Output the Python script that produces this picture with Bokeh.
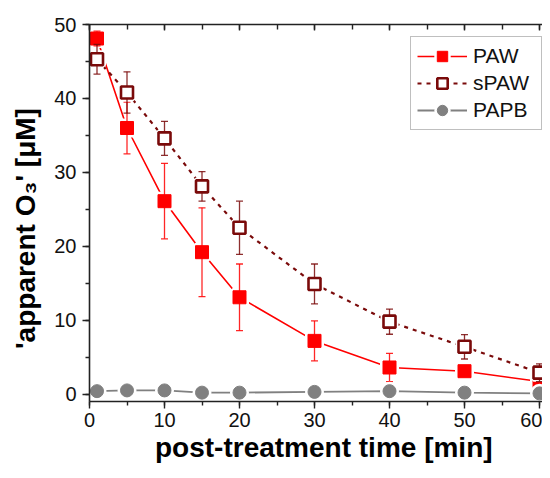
from bokeh.plotting import figure
from bokeh.models import (LinearAxis, SingleIntervalTicker, Range1d, Legend, LegendItem,
                          ColumnDataSource)
from bokeh.embed import file_html
from bokeh.resources import INLINE

# ---- data ----
time_min = [1, 5, 10, 15, 20, 30, 40, 50, 60]
paw = [48.1, 36.0, 26.1, 19.2, 13.1, 7.2, 3.6, 3.1, 1.7]
paw_err = [1.0, 3.5, 5.1, 6.0, 4.5, 2.7, 1.9, 0.5, 0.5]
spaw = [45.3, 40.8, 34.6, 28.1, 22.5, 14.9, 9.8, 6.4, 2.9]
spaw_err = [2.0, 2.8, 2.3, 2.0, 3.6, 2.7, 1.7, 1.65, 1.2]
papb = [0.4, 0.5, 0.5, 0.2, 0.2, 0.3, 0.4, 0.2, 0.1]
series_names = ["PAW", "sPAW", "PAPB"]
x_label = "\u00a0\u00a0post-treatment time [min]"
y_label = "'apparent O\u2083' [\u03bcM]\u00a0\u00a0\u00a0\u00a0"

FONT = "Liberation Sans"
RED = "#ff0000"
MAROON = "#7a0a0a"
GRAY = "#808080"
AXIS = "#222222"

W, H = 542, 470
p = figure(width=W, height=H, output_backend="svg", toolbar_location=None,
           x_range=Range1d(0, 60.4), y_range=Range1d(-1, 50),
           min_border_left=89, min_border_right=0, min_border_top=24, min_border_bottom=69,
           outline_line_color=None, background_fill_color="white", border_fill_color="white")
p.grid.visible = False

def src(y, e):
    return ColumnDataSource(dict(x=time_min, y=y,
                                 lo=[a - b for a, b in zip(y, e)],
                                 hi=[a + b for a, b in zip(y, e)]))

s_paw = src(paw, paw_err)
s_spaw = src(spaw, spaw_err)
s_papb = ColumnDataSource(dict(x=time_min, y=papb))

items = []
# PAW
l1 = p.line("x", "y", source=s_paw, line_color=RED, line_width=1.6)
h1 = p.scatter("x", "y", source=s_paw, marker="square", size=13, fill_color="white",
               line_color="white", line_width=6)
p.segment("x", "lo", "x", "hi", source=s_paw, line_color=RED, line_width=1.3, line_alpha=0.85)
p.scatter("x", "lo", source=s_paw, marker="dash", size=7, line_color=RED, line_width=1.3, line_alpha=0.85)
p.scatter("x", "hi", source=s_paw, marker="dash", size=7, line_color=RED, line_width=1.3, line_alpha=0.85)
m1 = p.scatter("x", "y", source=s_paw, marker="square", size=13, fill_color=RED, line_color=RED, line_width=1)
items.append(LegendItem(label=series_names[0], renderers=[l1, h1, m1]))

# sPAW
l2 = p.line("x", "y", source=s_spaw, line_color=MAROON, line_width=2.2, line_dash="4 5")
h2 = p.scatter("x", "y", source=s_spaw, marker="square", size=12, fill_color="white",
               line_color="white", line_width=6)
p.segment("x", "lo", "x", "hi", source=s_spaw, line_color=MAROON, line_width=1.3, line_alpha=0.85)
p.scatter("x", "lo", source=s_spaw, marker="dash", size=7, line_color=MAROON, line_width=1.3, line_alpha=0.85)
p.scatter("x", "hi", source=s_spaw, marker="dash", size=7, line_color=MAROON, line_width=1.3, line_alpha=0.85)
m2 = p.scatter("x", "y", source=s_spaw, marker="square", size=12, fill_color="white",
               line_color=MAROON, line_width=2.6)
items.append(LegendItem(label=series_names[1], renderers=[l2, h2, m2]))

# PAPB
l3 = p.line("x", "y", source=s_papb, line_color=GRAY, line_width=1.8)
h3 = p.scatter("x", "y", source=s_papb, marker="circle", size=13, fill_color="white",
               line_color="white", line_width=6)
m3 = p.scatter("x", "y", source=s_papb, marker="circle", size=13, fill_color=GRAY, line_color=GRAY)
items.append(LegendItem(label=series_names[2], renderers=[l3, h3, m3]))

# ---- axes ----
p.xaxis.ticker = SingleIntervalTicker(interval=10, num_minor_ticks=2)
p.yaxis.ticker = SingleIntervalTicker(interval=10, num_minor_ticks=2)
for ax in (p.xaxis[0], p.yaxis[0]):
    ax.axis_line_color = AXIS
    ax.axis_line_width = 1.6
    ax.major_tick_line_color = AXIS
    ax.minor_tick_line_color = AXIS
    ax.major_tick_line_width = 1.4
    ax.minor_tick_line_width = 1.4
    ax.major_tick_out = 7
    ax.major_tick_in = 0
    ax.minor_tick_out = 4
    ax.minor_tick_in = 0
    ax.major_label_text_font = FONT
    ax.major_label_text_font_size = "20px"
    ax.major_label_text_color = "#111111"
    ax.axis_label_text_font = FONT
    ax.axis_label_text_font_size = "28px"
    ax.axis_label_text_font_style = "bold"
    ax.axis_label_text_color = "#000000"
p.xaxis.axis_label = x_label
p.yaxis.axis_label = y_label
p.xaxis.major_label_standoff = 4
p.xaxis.axis_label_standoff = 2
p.yaxis.major_label_standoff = 6
p.yaxis.axis_label_standoff = 10

top = LinearAxis(ticker=SingleIntervalTicker(interval=10, num_minor_ticks=2),
                 major_label_text_font_size="0px", major_label_text_color=None,
                 axis_line_color=AXIS, axis_line_width=1.6,
                 major_tick_line_color=AXIS, minor_tick_line_color=AXIS,
                 major_tick_line_width=1.4, minor_tick_line_width=1.4,
                 major_tick_in=6, major_tick_out=0, minor_tick_in=5, minor_tick_out=0,
                 major_label_standoff=0)
p.add_layout(top, "above")

legend = Legend(items=items, location=(321, 271), orientation="vertical",
                label_text_font=FONT, label_text_font_size="21px", label_text_color="#111111",
                glyph_width=50, glyph_height=26, label_height=24, label_width=62, spacing=1,
                padding=6, margin=0, label_standoff=6,
                border_line_color=GRAY, border_line_width=1.2,
                background_fill_color="white", background_fill_alpha=1.0)
p.add_layout(legend, "center")

open("out.html", "w").write(file_html(p, INLINE))
